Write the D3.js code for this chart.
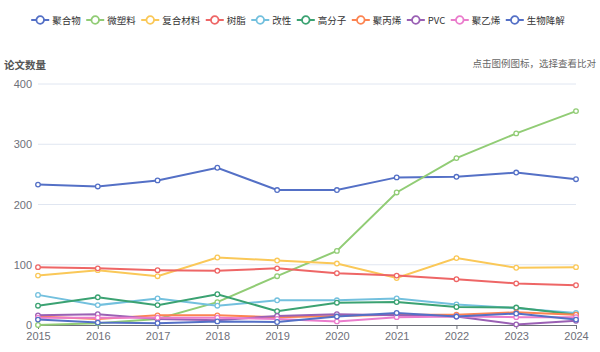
<!DOCTYPE html>
<html>
<head>
<meta charset="utf-8">
<script src="https://cdn.jsdelivr.net/npm/d3@7"></script>
<style>
  body { margin: 0; background: #fff; }
  svg { font-family: "Noto Sans CJK SC", "Noto Sans", sans-serif; }
</style>
</head>
<body>
<div id="chart"></div>
<script>
// data
const years = ["2015", "2016", "2017", "2018", "2019", "2020", "2021", "2022", "2023", "2024"];
const seriesNames = ["聚合物", "微塑料", "复合材料", "树脂", "改性", "高分子", "聚丙烯", "PVC", "聚乙烯", "生物降解"];
const juhewu     = [233, 230, 240, 261, 224, 224, 245, 246, 253, 242];
const weisuliao  = [0, 3, 10, 38, 81, 123, 220, 277, 318, 355];
const fuhecailiao= [82, 91, 81, 112, 107, 102, 78, 111, 95, 96];
const shuzhi     = [96, 94, 91, 90, 94, 86, 82, 76, 69, 66];
const gaixing    = [50, 33, 44, 32, 41, 41, 44, 34, 28, 20];
const gaofenzi   = [32, 46, 33, 51, 23, 37, 38, 30, 29, 17];
const jubingxi   = [14, 10, 16, 16, 13, 15, 17, 17, 21, 17];
const pvc        = [16, 18, 10, 8, 15, 18, 16, 14, 1, 7];
const juyixi     = [12, 12, 12, 12, 10, 6, 13, 14, 13, 13];
const shengwu    = [9, 4, 3, 6, 5, 14, 20, 14, 19, 9];
const yTicks = [0, 100, 200, 300, 400];

const allValues = [juhewu, weisuliao, fuhecailiao, shuzhi, gaixing, gaofenzi, jubingxi, pvc, juyixi, shengwu];
const colors = ["#5470c6", "#91cc75", "#fac858", "#ee6666", "#73c0de", "#3ba272", "#fc8452", "#9a60b4", "#ea7ccc", "#5470c6"];

const width = 600, height = 352;
const margin = {top: 84, right: 24, bottom: 27, left: 38};

const svg = d3.select("#chart").append("svg")
    .attr("width", width)
    .attr("height", height);

const x = d3.scalePoint()
    .domain(years)
    .range([margin.left, width - margin.right]);

const y = d3.scaleLinear()
    .domain([0, 400])
    .range([height - margin.bottom, margin.top]);

// grid lines
svg.append("g")
    .selectAll("line")
    .data(yTicks.filter(d => d > 0))
    .join("line")
    .attr("x1", margin.left)
    .attr("x2", width - margin.right)
    .attr("y1", d => y(d))
    .attr("y2", d => y(d))
    .attr("stroke", "#E0E6F1");

// y axis labels
const yAxis = svg.append("g")
    .attr("transform", `translate(${margin.left},0)`)
    .call(d3.axisLeft(y).tickValues(yTicks).tickSize(0).tickPadding(6));
yAxis.select(".domain").remove();
yAxis.selectAll("text").attr("fill", "#6E7079").attr("font-size", 11);

// x axis
const xAxis = svg.append("g")
    .attr("transform", `translate(0,${y(0)})`)
    .call(d3.axisBottom(x).tickSize(4).tickPadding(3));
xAxis.select(".domain").attr("stroke", "#6E7079");
xAxis.selectAll(".tick line").attr("stroke", "#6E7079");
xAxis.selectAll("text").attr("fill", "#6E7079").attr("font-size", 11);

// axis name and hint
svg.append("text")
    .attr("x", 4)
    .attr("y", 69)
    .attr("font-size", 10.5)
    .attr("font-weight", "bold")
    .attr("fill", "#555")
    .text("论文数量");

svg.append("text")
    .attr("x", 596)
    .attr("y", 67)
    .attr("text-anchor", "end")
    .attr("font-size", 9.5)
    .attr("fill", "#666")
    .text("点击图例图标，选择查看比对");

// lines
const line = d3.line()
    .x((d, i) => x(years[i]))
    .y(d => y(d));

allValues.forEach((vals, k) => {
    const g = svg.append("g");
    g.append("path")
        .datum(vals)
        .attr("fill", "none")
        .attr("stroke", colors[k])
        .attr("stroke-width", 2)
        .attr("d", line);
    g.selectAll("circle")
        .data(vals)
        .join("circle")
        .attr("cx", (d, i) => x(years[i]))
        .attr("cy", d => y(d))
        .attr("r", 2.3)
        .attr("fill", "#fff")
        .attr("stroke", colors[k])
        .attr("stroke-width", 1.3);
});

// legend
const legend = svg.append("g");
let lx = 0;
seriesNames.forEach((name, k) => {
    const item = legend.append("g").attr("transform", `translate(${lx},0)`);
    item.append("line")
        .attr("x1", 0).attr("x2", 18)
        .attr("y1", 0).attr("y2", 0)
        .attr("stroke", colors[k])
        .attr("stroke-width", 2);
    item.append("circle")
        .attr("cx", 9).attr("cy", 0).attr("r", 3.8)
        .attr("fill", "#fff")
        .attr("stroke", colors[k])
        .attr("stroke-width", 1.8);
    const t = item.append("text")
        .attr("x", 21)
        .attr("y", 3.5)
        .attr("font-size", 9.5)
        .attr("fill", "#333")
        .text(name);
    lx += 21 + t.node().getComputedTextLength() + 5.5;
});
legend.attr("transform", `translate(${(width - (lx - 5.5)) / 2 - 2},20)`);
</script>
</body>
</html>
